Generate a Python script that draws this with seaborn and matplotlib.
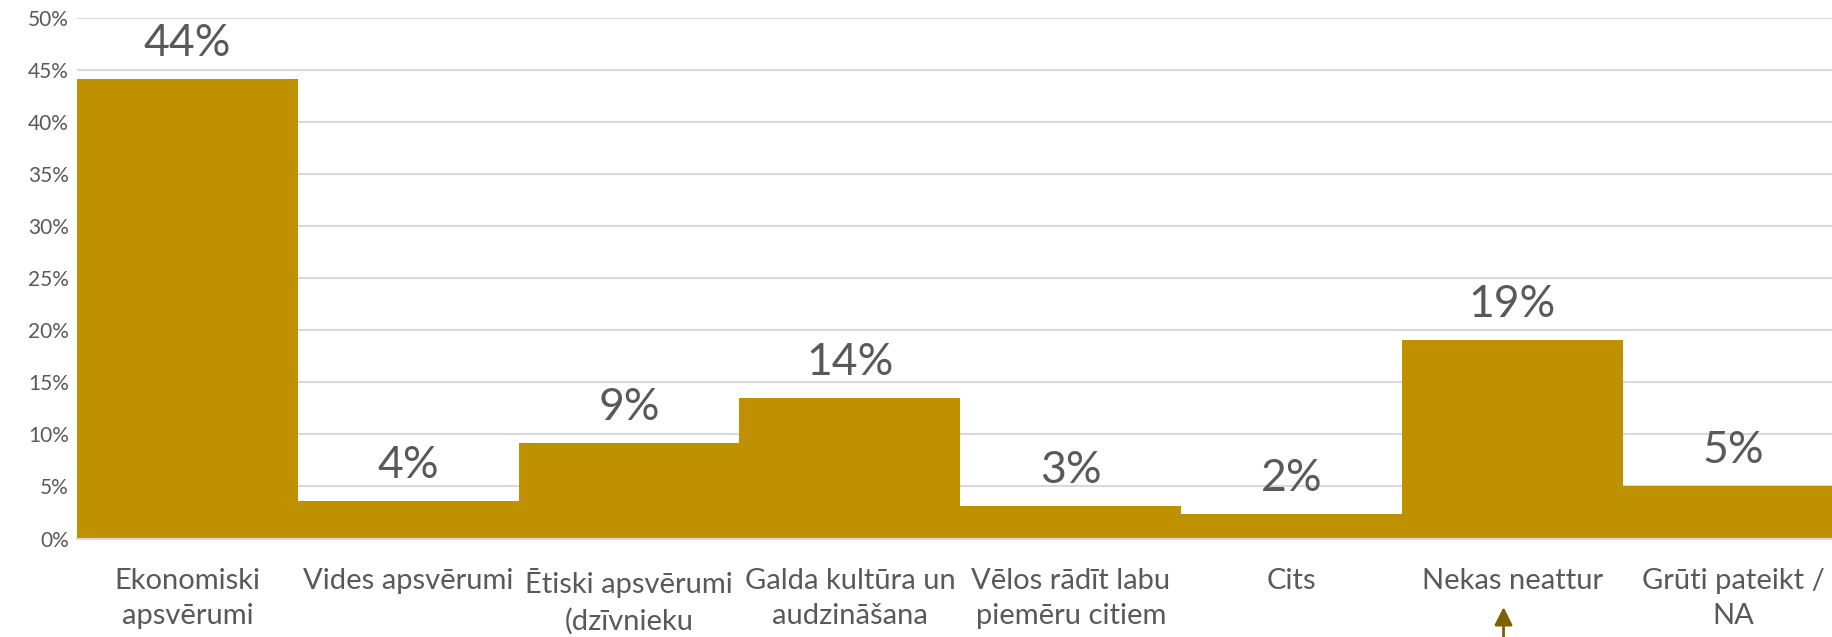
import matplotlib
matplotlib.use("Agg")
import matplotlib.pyplot as plt
import seaborn as sns
from matplotlib.ticker import PercentFormatter

categories = [
    "Ekonomiski\napsvērumi",
    "Vides apsvērumi",
    "Ētiski apsvērumi\n(dzīvnieku",
    "Galda kultūra un\naudzināšana",
    "Vēlos rādīt labu\npiemēru citiem",
    "Cits",
    "Nekas neattur",
    "Grūti pateikt /\nNA",
]
values = [0.4406, 0.0359, 0.0919, 0.1345, 0.0314, 0.0235, 0.1906, 0.0504]
value_labels = ["44%", "4%", "9%", "14%", "3%", "2%", "19%", "5%"]
yticks = [0, 0.05, 0.10, 0.15, 0.20, 0.25, 0.30, 0.35, 0.40, 0.45, 0.50]

sns.set_theme(style="white")
plt.rcParams["font.family"] = ["Lato", "DejaVu Sans"]

BAR = "#BF9000"
TXT = "#595959"
GRID = "#D9D9D9"

fig = plt.figure(figsize=(18.32, 6.37), dpi=100)
ax = fig.add_axes([77 / 1832, 98.4 / 637, 1766.6 / 1832, 521.1 / 637])

sns.barplot(x=list(range(len(categories))), y=values, color=BAR, saturation=1,
            width=1.0, ax=ax, zorder=2, linewidth=0, edgecolor=BAR)
ax.set_xlim(-0.5, len(categories) - 0.5)
ax.set_ylim(0, 0.5)
ax.set_yticks(yticks)
ax.yaxis.set_major_formatter(PercentFormatter(1.0, decimals=0))
ax.set_xticks(range(len(categories)))
ax.set_xticklabels(categories, fontsize=21, color=TXT, linespacing=1.45)
ax.tick_params(axis="x", length=0, pad=21)
ax.tick_params(axis="y", length=0, pad=6, labelsize=15, labelcolor=TXT)
ax.set_xlabel("")
ax.set_ylabel("")

ax.grid(axis="y", color=GRID, linewidth=1.5, zorder=0)
ax.set_axisbelow(True)
for s in ["top", "right", "left"]:
    ax.spines[s].set_visible(False)
ax.spines["bottom"].set_color(GRID)
ax.spines["bottom"].set_linewidth(1.5)

ax.bar_label(ax.containers[0], labels=value_labels, padding=11,
             fontsize=32, color=TXT)

# arrow under "Nekas neattur"
ax.annotate("", xy=(5.96, 30 / 637), xytext=(5.96, -0.02),
            xycoords=("data", "figure fraction"),
            textcoords=("data", "figure fraction"),
            arrowprops=dict(arrowstyle="-|>", color="#7F6000", lw=2,
                            mutation_scale=27, shrinkA=0, shrinkB=0),
            annotation_clip=False)

fig.savefig("out.png", dpi=100)
